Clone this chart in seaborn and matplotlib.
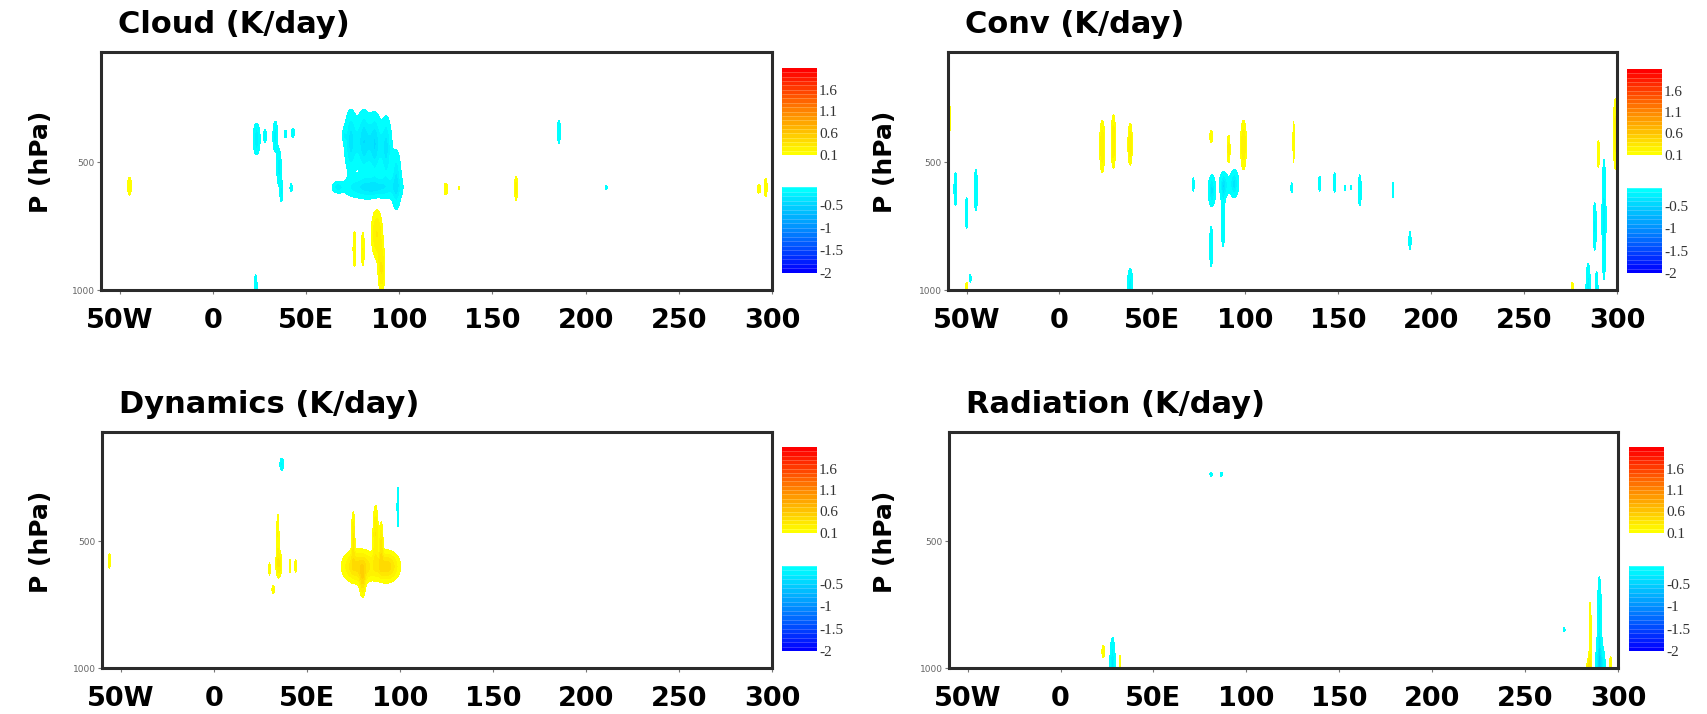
import numpy as np
import matplotlib
matplotlib.use("Agg")
import matplotlib.pyplot as plt
from matplotlib.colors import ListedColormap, BoundaryNorm
from matplotlib.cm import ScalarMappable
import seaborn as sns

# ---- axes extents and labels ----
lon_min, lon_max = -60, 300
p_top, p_bottom = 70, 1000
lon_ticks = [-50, 0, 50, 100, 150, 200, 250, 300]
lon_labels = ["50W", "0", "50E", "100", "150", "200", "250", "300"]
p_ticks = [500, 1000]
p_labels = ["500", "1000"]

# ---- shading levels (K/day) ----
pos_levels = [0.1, 0.2, 0.3, 0.4, 0.5, 0.6, 0.7, 0.8, 0.9, 1.0, 1.1,
              1.2, 1.3, 1.4, 1.5, 1.6, 1.7, 1.8, 1.9, 2.0, 2.1]
neg_levels = [-2.0, -1.9, -1.8, -1.7, -1.6, -1.5, -1.4, -1.3, -1.2, -1.1,
              -1.0, -0.9, -0.8, -0.7, -0.6, -0.5, -0.4, -0.3, -0.2, -0.1]
pos_ticks = [0.1, 0.6, 1.1, 1.6]
pos_tick_labels = ["0.1", "0.6", "1.1", "1.6"]
neg_ticks = [-0.5, -1.0, -1.5, -2.0]
neg_tick_labels = ["-0.5", "-1", "-1.5", "-2"]

panel_titles = ["Cloud (K/day)", "Conv (K/day)",
                "Dynamics (K/day)", "Radiation (K/day)"]

# ---- heating-rate cells: (lon, p, half-width lon, half-depth p, peak K/day) ----
cloud_cells = [
    (-44.7, 594, 1.0, 35, 0.2),
    (23.5, 410, 1.9, 62, -0.3),
    (28.0, 398, 0.8, 25, -0.2),
    (33.5, 400, 1.3, 60, -0.3),
    (35.5, 520, 1.2, 70, -0.3),
    (36.8, 615, 0.8, 40, -0.25),
    (39.0, 390, 0.6, 15, -0.2),
    (43.0, 385, 0.8, 18, -0.2),
    (42.0, 600, 0.6, 16, -0.2),
    (23.0, 1000, 0.8, 60, -0.2),
    (70.5, 395, 0.5, 18, -0.15),
    (85.0, 600, 15.0, 45, -0.35),
    (67.0, 598, 2.5, 18, -0.25),
    (74.0, 420, 3.5, 125, -0.35),
    (81.0, 420, 4.0, 125, -0.4),
    (87.0, 430, 3.5, 125, -0.4),
    (93.0, 445, 3.0, 125, -0.35),
    (98.5, 570, 2.5, 115, -0.3),
    (88.0, 780, 3.0, 95, 0.3),
    (90.5, 920, 1.8, 90, 0.3),
    (76.0, 840, 0.8, 70, 0.2),
    (80.5, 840, 0.8, 65, 0.2),
    (125.0, 605, 0.9, 23, 0.2),
    (132.0, 602, 0.4, 6, 0.15),
    (162.7, 602, 0.8, 47, 0.25),
    (185.7, 381, 0.8, 45, -0.2),
    (211.0, 600, 0.6, 8, -0.15),
    (293.0, 605, 1.0, 16, 0.2),
    (296.6, 600, 0.8, 35, 0.2),
]

conv_cells = [
    (-59.6, 330, 0.8, 90, 0.2),
    (299.2, 390, 1.2, 140, 0.25),
    (-56.0, 605, 0.8, 65, -0.25),
    (-50.0, 700, 0.7, 60, -0.2),
    (-45.0, 610, 0.9, 80, -0.25),
    (-48.0, 955, 0.5, 15, -0.15),
    (-50.0, 990, 0.5, 20, 0.15),
    (23.0, 438, 1.4, 102, 0.3),
    (29.0, 420, 1.2, 105, 0.3),
    (38.0, 430, 1.2, 82, 0.3),
    (38.0, 1000, 1.5, 85, -0.3),
    (81.6, 400, 0.7, 25, 0.2),
    (91.0, 450, 0.8, 55, 0.25),
    (99.0, 433, 1.6, 97, 0.3),
    (126.0, 420, 0.4, 80, 0.15),
    (72.0, 588, 0.5, 27, -0.2),
    (82.0, 612, 2.0, 62, -0.35),
    (88.5, 590, 2.5, 50, -0.35),
    (94.0, 585, 2.5, 55, -0.35),
    (88.0, 720, 1.0, 110, -0.25),
    (81.6, 830, 0.8, 80, -0.25),
    (125.0, 600, 0.5, 20, -0.15),
    (140.0, 585, 0.6, 30, -0.2),
    (148.0, 580, 0.5, 40, -0.2),
    (153.6, 600, 0.5, 10, -0.15),
    (157.0, 600, 0.4, 8, -0.15),
    (161.6, 610, 0.8, 60, -0.25),
    (179.5, 608, 0.5, 30, -0.2),
    (188.6, 808, 0.6, 36, -0.2),
    (276.0, 1000, 0.6, 30, 0.2),
    (284.5, 1000, 1.2, 105, -0.3),
    (289.0, 1000, 0.8, 70, -0.25),
    (288.0, 752, 0.9, 92, -0.25),
    (293.0, 725, 1.1, 235, -0.3),
    (290.0, 467, 0.6, 53, 0.2),
]

dyn_cells = [
    (-56.0, 577, 0.5, 30, 0.2),
    (36.6, 197, 1.0, 24, -0.25),
    (34.5, 470, 0.6, 75, 0.2),
    (35.0, 590, 1.6, 55, 0.3),
    (30.0, 610, 0.4, 24, 0.15),
    (32.0, 690, 0.7, 15, 0.2),
    (41.0, 598, 0.5, 24, 0.15),
    (44.0, 598, 0.5, 24, 0.15),
    (78.0, 600, 9.5, 70, 0.45),
    (93.0, 600, 7.5, 65, 0.45),
    (75.0, 480, 0.9, 95, 0.3),
    (87.0, 470, 1.4, 110, 0.3),
    (90.0, 510, 1.0, 85, 0.3),
    (80.0, 660, 1.5, 60, 0.3),
    (99.0, 365, 0.5, 78, -0.2),
]

rad_cells = [
    (28.0, 1000, 1.5, 120, -0.35),
    (23.0, 935, 0.7, 25, 0.2),
    (32.0, 980, 0.5, 30, 0.2),
    (81.0, 236, 0.6, 8, -0.15),
    (86.5, 236, 0.6, 8, -0.15),
    (290.0, 880, 1.2, 240, -0.3),
    (290.5, 990, 2.6, 80, -0.35),
    (285.0, 880, 0.6, 140, 0.2),
    (284.5, 990, 1.2, 30, 0.25),
    (296.0, 990, 0.5, 35, 0.2),
    (271.0, 850, 0.5, 8, -0.15),
]

panel_cells = [cloud_cells, conv_cells, dyn_cells, rad_cells]

# ---- grid and field reconstruction ----
lon = np.arange(lon_min, lon_max + 0.01, 0.25)
lev = np.arange(p_top, p_bottom + 0.01, 2.5)
LON, LEV = np.meshgrid(lon, lev)


def heating_field(cells):
    field = np.zeros_like(LON)
    for x0, p0, dx, dp, amp in cells:
        k = np.sqrt(2.0 * np.log(abs(amp) / 0.1))
        sx, sp = dx / k, dp / k
        field += amp * np.exp(-0.5 * (((LON - x0) / sx) ** 2 + ((LEV - p0) / sp) ** 2))
    return field


# ---- styling ----
sns.set_theme(style="white")
plt.rcParams["font.family"] = ["DejaVu Sans"]
plt.rcParams["text.color"] = "black"
plt.rcParams["xtick.color"] = "black"
plt.rcParams["ytick.color"] = "black"

warm_cmap = sns.blend_palette(["#FFFF00", "#FF8800", "#FF0000"], as_cmap=True)
cool_cmap = sns.blend_palette(["#0000FF", "#0088FF", "#00FFFF"], as_cmap=True)
n_pos = len(pos_levels) - 1
n_neg = len(neg_levels) - 1
pos_colors = [warm_cmap(i / (n_pos - 1)) for i in range(n_pos)]
neg_colors = [cool_cmap(i / (n_neg - 1)) for i in range(n_neg)]

W, H = 1708, 714
fig = plt.figure(figsize=(W / 100, H / 100), dpi=100)
fig.patch.set_facecolor("white")


def rect(left, top, width, height):
    return [left / W, 1 - (top + height) / H, width / W, height / H]


# axes boxes in pixels: (left, top, width, height)
panel_boxes = [
    (101, 52, 671, 238),
    (948, 52, 669, 238),
    (102, 432, 670, 236),
    (949, 432, 669, 236),
]
cbar_x = [782, 1627, 782, 1629]
cbar_w = 35
cbar_pos_y = [(68, 87), (69, 86), (447, 86), (447, 86)]
cbar_neg_y = [(187, 86), (188, 85), (566, 85), (566, 85)]
ylabel_x = [41, 885, 41, 885]
title_base_y = [33, 33, 413, 413]

spine_color = "#2b2b2b"

for i, cells in enumerate(panel_cells):
    left, top, width, height = panel_boxes[i]
    ax = fig.add_axes(rect(left, top, width, height))
    field = heating_field(cells)
    ax.contourf(LON, LEV, field, levels=pos_levels, colors=pos_colors)
    ax.contourf(LON, LEV, field, levels=neg_levels, colors=neg_colors)

    ax.set_xlim(lon_min, lon_max)
    ax.set_ylim(p_bottom, p_top)
    ax.set_facecolor("white")
    for s in ax.spines.values():
        s.set_visible(True)
        s.set_color(spine_color)
        s.set_linewidth(2.2)

    ax.set_xticks(lon_ticks)
    ax.set_xticklabels(lon_labels, fontsize=19.5, fontweight="bold", color="black")
    ax.tick_params(axis="x", bottom=True, length=3, width=0.8, color="#777777",
                   pad=10, direction="out")
    ax.set_yticks(p_ticks)
    ax.set_yticklabels(p_labels, fontsize=6.5, color="#666666")
    ax.tick_params(axis="y", left=True, length=3, width=0.8, color="#777777",
                   pad=1.5, direction="out")

    fig.text((left + 17) / W, 1 - title_base_y[i] / H, panel_titles[i],
             fontsize=22, fontweight="bold", ha="left", va="baseline", color="black")
    fig.text(ylabel_x[i] / W, 1 - (top + 110) / H, "P (hPa)", fontsize=18,
             fontweight="bold", rotation=90, ha="center", va="center", color="black")

    # warm and cool colour keys
    for (ytop, hgt), levels, colors, ticks, labels in [
        (cbar_pos_y[i], pos_levels, pos_colors, pos_ticks, pos_tick_labels),
        (cbar_neg_y[i], neg_levels, neg_colors, neg_ticks, neg_tick_labels),
    ]:
        cax = fig.add_axes(rect(cbar_x[i], ytop, cbar_w, hgt))
        sm = ScalarMappable(norm=BoundaryNorm(levels, len(colors)),
                            cmap=ListedColormap(colors))
        cb = fig.colorbar(sm, cax=cax, ticks=ticks, drawedges=True)
        cb.outline.set_visible(False)
        cb.dividers.set_color("white")
        cb.dividers.set_alpha(0.25)
        cb.dividers.set_linewidth(0.6)
        cb.set_ticks(ticks)
        cb.set_ticklabels(labels)
        cax.minorticks_off()
        cax.tick_params(which="both", length=0, pad=1.5, labelsize=11,
                        labelcolor="#333333")
        for t in cax.get_yticklabels():
            t.set_fontfamily("Liberation Serif")

fig.savefig("out.png", dpi=100, facecolor="white")
